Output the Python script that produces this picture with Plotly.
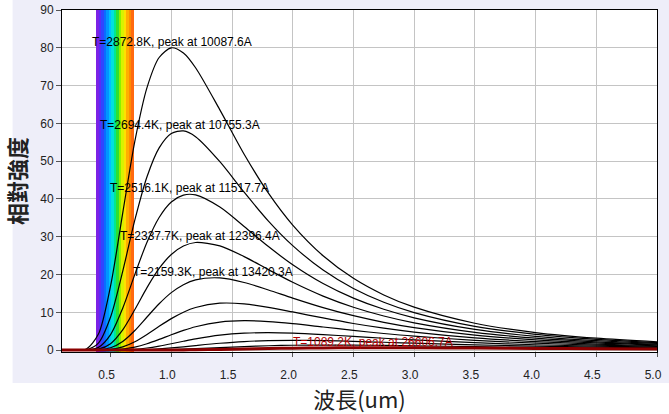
import plotly.graph_objects as go

# wavelength grid (um) shared by every curve
wavelength = [0.1, 0.2, 0.3, 0.4, 0.5, 0.6, 0.7, 0.8, 0.9, 1.0, 1.1, 1.2,
              1.4, 1.6, 1.8, 2.0, 2.25, 2.5, 2.75, 3.0, 3.5, 4.0, 4.5, 5.0]

# relative intensity, hottest first
i_2872 = [0, 0, 0.28, 4.24, 16.99, 36.27, 55.30, 69.47, 77.43, 79.99, 78.62, 74.72,
          63.57, 51.83, 41.52, 33.08, 24.96, 18.99, 14.60, 11.36, 7.11, 4.65, 3.15, 2.21]
i_2694 = [0, 0, 0.09, 1.85, 8.75, 20.86, 34.45, 45.87, 53.51, 57.31, 57.99, 56.48,
          49.87, 41.78, 34.15, 27.65, 21.19, 16.31, 12.66, 9.93, 6.29, 4.15, 2.83, 1.99]
i_2516 = [0, 0, 0.03, 0.72, 4.11, 11.10, 20.05, 28.56, 35.10, 39.20, 41.02, 41.07,
          37.85, 32.72, 27.40, 22.59, 17.62, 13.76, 10.80, 8.55, 5.49, 3.65, 2.51, 1.78]
i_2337 = [0, 0, 0, 0.24, 1.71, 5.36, 10.74, 16.54, 21.60, 25.30, 27.53, 28.48,
          27.59, 24.74, 21.30, 17.95, 14.30, 11.35, 9.03, 7.22, 4.71, 3.17, 2.20, 1.57]
i_2159 = [0, 0, 0, 0.07, 0.62, 2.30, 5.20, 8.76, 12.26, 15.21, 17.32, 18.60,
          19.11, 17.90, 15.92, 13.77, 11.25, 9.11, 7.36, 5.96, 3.96, 2.71, 1.90, 1.36]
i_1981 = [0, 0, 0, 0.02, 0.19, 0.85, 2.21, 4.14, 6.30, 8.33, 10.03, 11.27,
          12.41, 12.24, 11.33, 10.10, 8.51, 7.05, 5.80, 4.77, 3.25, 2.26, 1.60, 1.16]
i_1802 = [0, 0, 0, 0, 0.04, 0.26, 0.79, 1.68, 2.83, 4.06, 5.21, 6.18,
          7.41, 7.78, 7.55, 7.00, 6.11, 5.22, 4.39, 3.68, 2.58, 1.83, 1.32, 0.97]
i_1624 = [0, 0, 0, 0, 0.01, 0.06, 0.23, 0.56, 1.07, 1.69, 2.35, 2.97,
          3.96, 4.49, 4.62, 4.48, 4.10, 3.63, 3.14, 2.70, 1.96, 1.42, 1.05, 0.78]
i_1446 = [0, 0, 0, 0, 0, 0.01, 0.05, 0.14, 0.32, 0.57, 0.87, 1.20,
          1.81, 2.26, 2.51, 2.58, 2.50, 2.32, 2.08, 1.84, 1.40, 1.05, 0.79, 0.60]
i_1267 = [0, 0, 0, 0, 0, 0, 0.01, 0.03, 0.07, 0.14, 0.24, 0.37,
          0.67, 0.94, 1.15, 1.28, 1.34, 1.31, 1.24, 1.14, 0.92, 0.72, 0.56, 0.44]
i_1089 = [0, 0, 0, 0, 0, 0, 0, 0, 0.01, 0.02, 0.05, 0.08,
          0.18, 0.29, 0.41, 0.50, 0.58, 0.62, 0.63, 0.61, 0.53, 0.44, 0.36, 0.29]

curves = [i_2872, i_2694, i_2516, i_2337, i_2159, i_1981,
          i_1802, i_1624, i_1446, i_1267, i_1089]

# labelled curves: label text, peak wavelength (um), peak height
label_text = ["T=2872.8K, peak at 10087.6A", "T=2694.4K, peak at 10755.3A",
              "T=2516.1K, peak at 11517.7A", "T=2337.7K, peak at 12396.4A",
              "T=2159.3K, peak at 13420.3A", "T=1089.2K, peak at 26606.7A"]
label_peak_um = [1.0088, 1.0755, 1.1518, 1.2396, 1.3420, 2.6607]
label_peak_val = [80.0, 58.05, 41.23, 28.54, 19.19, 0.63]
label_color = ["black"] * 5 + ["#b00000"]

# visible-light band
band_start, band_end = 0.38, 0.69
spectrum = ["#7b22e6", "#5a2cf5", "#2f46ff", "#0a6cff", "#0096ff", "#00c0ff",
            "#00e0e0", "#00e890", "#2ee030", "#8cf000", "#d8f200", "#ffe000",
            "#ffae00", "#ff8c00", "#ff6a10"]

fig = go.Figure()

n = len(spectrum)
step = (band_end - band_start) / n
fig.add_trace(go.Heatmap(
    x=[band_start + k * step for k in range(n + 1)],
    y=[-0.5, 90],
    z=[list(range(n))],
    zmin=0, zmax=n - 1,
    colorscale=[[k / (n - 1), c] for k, c in enumerate(spectrum)],
    showscale=False, hoverinfo="skip",
))

for k, vals in enumerate(curves):
    last = k == len(curves) - 1
    fig.add_trace(go.Scatter(
        x=wavelength, y=vals, mode="lines",
        line=dict(color="#8b0000" if last else "black",
                  width=3 if last else 1.2, shape="spline", smoothing=0.8),
        hoverinfo="skip",
    ))

for txt, px_, pv, col in zip(label_text, label_peak_um, label_peak_val, label_color):
    fig.add_annotation(x=px_, y=pv, text=txt, showarrow=False,
                       xanchor="center", yanchor="middle", yshift=6,
                       font=dict(family="Liberation Sans", size=12, color=col))

# lavender panel behind the chart, white plot area on top of it
fig.add_shape(type="rect", xref="paper", yref="paper", x0=-0.083, x1=1.03,
              y0=-0.091, y1=1.04, fillcolor="#eeeef9", line_width=0, layer="below")
fig.add_shape(type="rect", xref="paper", yref="paper", x0=0, x1=1, y0=0, y1=1,
              fillcolor="white", line_width=0, layer="below")

fig.update_layout(
    width=669, height=414,
    margin=dict(l=62, r=12, t=10, b=62),
    paper_bgcolor="white", plot_bgcolor="white",
    showlegend=False,
    font=dict(family="Liberation Sans", size=12, color="#222"),
)
fig.update_xaxes(
    range=[0.1, 5.0], tick0=0, dtick=0.5, tickformat=".1f", automargin=False,
    showgrid=True, gridcolor="#c4c4c4", gridwidth=1, zeroline=False,
    showline=True, linecolor="black", linewidth=1, mirror=True,
    ticks="outside", ticklen=4, tickcolor="#555",
    ticklabelstandoff=8, ticklabelshift=-4,
    title=dict(text="波長(um)", standoff=4,
               font=dict(family="Noto Sans CJK TC", size=22, color="#222")),
)
fig.update_yaxes(
    range=[-0.5, 90], tick0=0, dtick=10, automargin=False,
    showgrid=True, gridcolor="#c4c4c4", gridwidth=1, zeroline=False,
    showline=True, linecolor="black", linewidth=1, mirror=True,
    ticks="outside", ticklen=5, tickcolor="#555",
    title=dict(text="<b>相對強度</b>", standoff=8,
               font=dict(family="Noto Sans CJK TC", size=22, color="#222")),
)

# the page body has a default 8px margin; drop it so the figure fills the window
fig.write_html("out.html", config={"displayModeBar": False},
               post_script="document.body.style.margin='0';")
